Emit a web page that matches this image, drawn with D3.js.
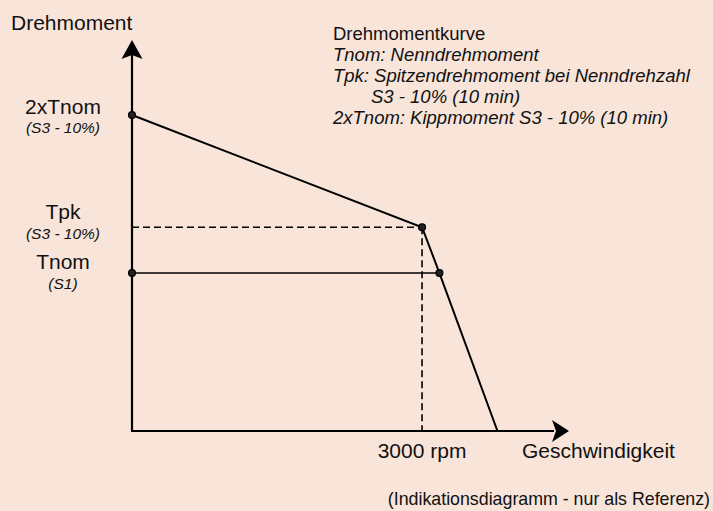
<!DOCTYPE html>
<html>
<head>
<meta charset="utf-8">
<script src="https://cdn.jsdelivr.net/npm/d3@7"></script>
<style>
  html, body { margin: 0; padding: 0; background: #F8E4D9; }
  svg { display: block; font-family: "Liberation Sans", Arial, sans-serif; }
</style>
</head>
<body>
<svg id="chart" width="713" height="511"></svg>
<script>
// ---- data ----
const speedMax = 4520;          // end of speed axis (rpm)
const torqueMax = 2.475;        // end of torque axis (x Tnom)
const curveSpeed  = [0, 3000, 3180, 3780];
const curveTorque = [2, 1.29, 1, 0];
const tnomLine = [[0, 1], [3180, 1]];
const tpkSpeed = 3000;
const tpkTorque = 1.29;
const markerSpeed  = [0, 3000, 0, 3180];
const markerTorque = [2, 1.29, 1, 1];
const levelLabels = ["2xTnom", "Tpk", "Tnom"];
const levelSubs   = ["(S3 - 10%)", "(S3 - 10%)", "(S1)"];
const levelValues = [2, 1.29, 1];
const legendLines = [
  "Drehmomentkurve",
  "Tnom: Nenndrehmoment",
  "Tpk: Spitzendrehmoment bei Nenndrehzahl",
  "S3 - 10% (10 min)",
  "2xTnom: Kippmoment S3 - 10% (10 min)"
];
const xTickLabel = "3000 rpm";
const xTitle = "Geschwindigkeit";
const yTitle = "Drehmoment";
const footnote = "(Indikationsdiagramm - nur als Referenz)";

// ---- scales ----
const svg = d3.select("#chart");
const x = d3.scaleLinear().domain([0, speedMax]).range([132, 569]);
const y = d3.scaleLinear().domain([0, torqueMax]).range([431, 40]);
const ink = "#000";

// axes lines
svg.append("line").attr("x1", x(0)).attr("y1", y(0)).attr("x2", x(0)).attr("y2", y(torqueMax) + 15)
  .attr("stroke", ink).attr("stroke-width", 2.2);
svg.append("line").attr("x1", x(0) - 1).attr("y1", y(0)).attr("x2", x(speedMax) - 15).attr("y2", y(0))
  .attr("stroke", ink).attr("stroke-width", 2.2);

// arrowheads
const yt = [x(0), y(torqueMax)];
svg.append("path")
  .attr("d", `M${yt[0]},${yt[1]} L${yt[0] + 10.5},${yt[1] + 19} L${yt[0]},${yt[1] + 15} L${yt[0] - 10.5},${yt[1] + 19} Z`)
  .attr("fill", ink);
const xt = [x(speedMax), y(0)];
svg.append("path")
  .attr("d", `M${xt[0]},${xt[1]} L${xt[0] - 17},${xt[1] - 11} L${xt[0] - 13},${xt[1]} L${xt[0] - 17},${xt[1] + 11} Z`)
  .attr("fill", ink);

// dashed Tpk guides
svg.append("line").attr("x1", x(0)).attr("y1", y(tpkTorque)).attr("x2", x(tpkSpeed)).attr("y2", y(tpkTorque))
  .attr("stroke", ink).attr("stroke-width", 1.6).attr("stroke-dasharray", "7,4");
svg.append("line").attr("x1", x(tpkSpeed)).attr("y1", y(tpkTorque)).attr("x2", x(tpkSpeed)).attr("y2", y(0))
  .attr("stroke", ink).attr("stroke-width", 1.6).attr("stroke-dasharray", "7,4");

// Tnom line
svg.append("path")
  .attr("d", d3.line().x(d => x(d[0])).y(d => y(d[1]))(tnomLine))
  .attr("fill", "none").attr("stroke", ink).attr("stroke-width", 1.6);

// torque curve
const curve = curveSpeed.map((s, i) => [s, curveTorque[i]]);
svg.append("path")
  .attr("d", d3.line().x(d => x(d[0])).y(d => y(d[1]))(curve))
  .attr("fill", "none").attr("stroke", ink).attr("stroke-width", 2);

// markers
svg.selectAll("circle.m").data(markerSpeed.map((s, i) => [s, markerTorque[i]])).join("circle")
  .attr("class", "m")
  .attr("cx", d => x(d[0])).attr("cy", d => y(d[1])).attr("r", 3.4)
  .attr("fill", "#222").attr("stroke", ink).attr("stroke-width", 1.3);

// level labels (left)
const mainOff = [-1, -8, -4];
const subOff  = [18, 12, 16];
levelLabels.forEach((lab, i) => {
  svg.append("text").attr("x", 63).attr("y", y(levelValues[i]) + mainOff[i])
    .attr("text-anchor", "middle").attr("font-size", 21).attr("fill", "#111").text(lab);
  svg.append("text").attr("x", 63).attr("y", y(levelValues[i]) + subOff[i])
    .attr("text-anchor", "middle").attr("font-size", 15.5).attr("font-style", "italic")
    .attr("fill", "#111").text(levelSubs[i]);
});

// axis titles
svg.append("text").attr("x", 11).attr("y", 30).attr("font-size", 21).attr("fill", "#111").text(yTitle);
svg.append("text").attr("x", x(tpkSpeed)).attr("y", 458).attr("text-anchor", "middle")
  .attr("font-size", 21).attr("fill", "#111").text(xTickLabel);
svg.append("text").attr("x", 522).attr("y", 458).attr("font-size", 21).attr("fill", "#111").text(xTitle);

// legend
legendLines.forEach((t, i) => {
  svg.append("text")
    .attr("x", i === 3 ? 371 : 333)
    .attr("y", 40 + i * 21)
    .attr("font-size", 18.5)
    .attr("font-style", i === 0 ? "normal" : "italic")
    .attr("fill", "#111").text(t);
});

// footnote
svg.append("text").attr("x", 710).attr("y", 505).attr("text-anchor", "end")
  .attr("font-size", 17.8).attr("fill", "#111").text(footnote);
</script>
</body>
</html>
